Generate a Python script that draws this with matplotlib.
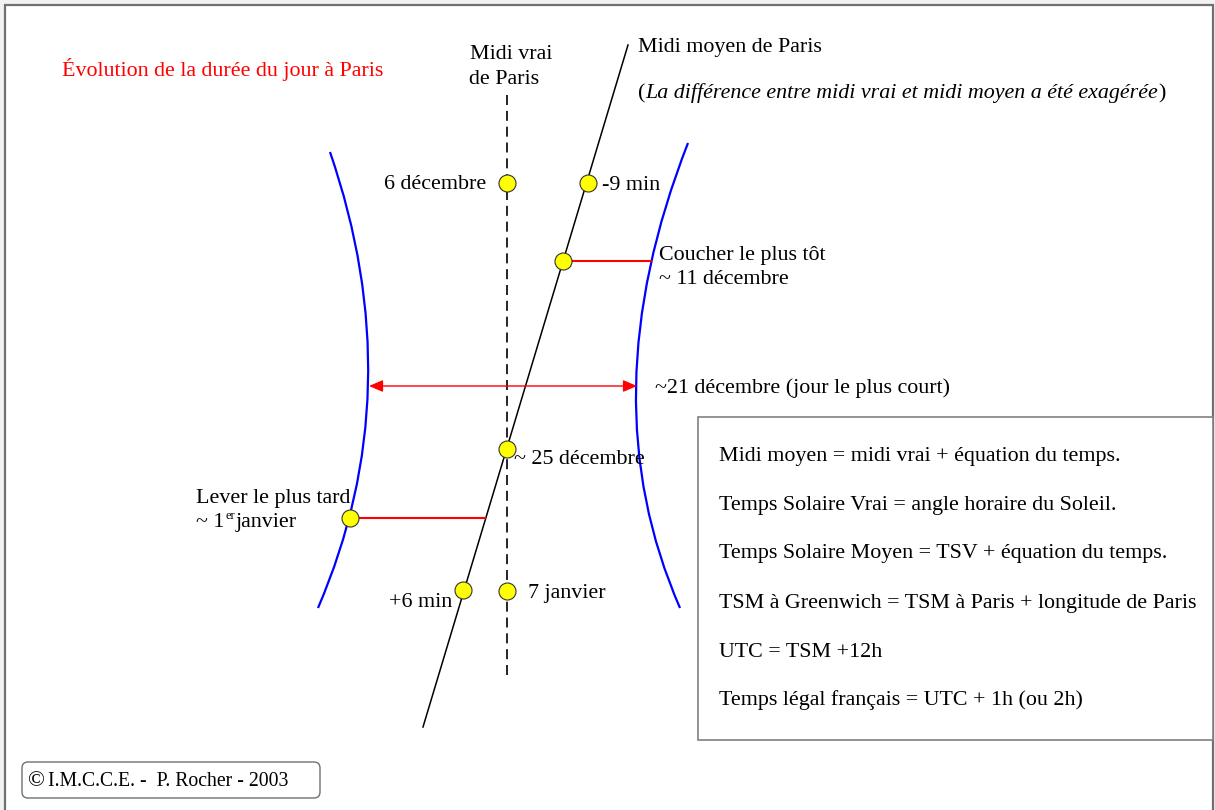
import matplotlib
matplotlib.use("Agg")
import matplotlib.pyplot as plt
from matplotlib.path import Path
from matplotlib.patches import PathPatch, Rectangle, FancyBboxPatch

plt.rcParams['font.family'] = ['Liberation Serif', 'DejaVu Serif']

# ---------------- data (diagram coordinates, pixels, y downward) ----------------
title = "Évolution de la durée du jour à Paris"

true_noon_x = 507
true_noon_y = [95, 675]
mean_noon_x = [628, 423]
mean_noon_y = [45, 727]

# yellow events: (x, y)
event_names = ["6 décembre", "-9 min", "Coucher le plus tôt", "~ 25 décembre",
               "7 janvier", "+6 min", "Lever le plus tard"]
event_x = [507, 588, 563, 507, 507, 463, 350]
event_y = [183, 183, 261, 449, 591, 590, 518]

# sunset / sunrise curves as quadratic Bezier control points
sunrise_x = [330, 412, 318]
sunrise_y = [152, 390, 608]
sunset_x = [688, 588, 680]
sunset_y = [143, 398, 608]

# red markers
sunset_link_x = [563, 651]
sunset_link_y = [261, 261]
sunrise_link_x = [350, 485]
sunrise_link_y = [518, 518]
shortest_x = [369, 637]
shortest_y = [386, 386]

box_lines = [
    "Midi moyen = midi vrai + équation du temps.",
    "Temps Solaire Vrai = angle horaire du Soleil.",
    "Temps Solaire Moyen = TSV + équation du temps.",
    "TSM à Greenwich = TSM à Paris + longitude de Paris",
    "UTC = TSM +12h",
    "Temps légal français = UTC + 1h (ou 2h)",
]
box_line_y = [461, 510, 558, 608, 657, 705]

W, H = 1215, 810
FS = 15.8
fig = plt.figure(figsize=(W / 100, H / 100), dpi=100, facecolor='#f2f2f2')
ax = fig.add_axes([0, 0, 1, 1])
ax.set_xlim(0, W)
ax.set_ylim(H, 0)
ax.axis('off')

# page frame
ax.add_patch(Rectangle((5, 5), 1208, 820, facecolor='white', edgecolor='#707070',
                       lw=1.6, zorder=0))

# title
ax.text(62, 76, title, color='#ff0000', fontsize=FS, va='baseline')

# true noon (dashed)
ax.plot([true_noon_x, true_noon_x], true_noon_y, color='black', lw=1.2,
        dashes=(6, 3.5), zorder=2)
ax.text(511, 59, "Midi vrai", fontsize=FS, ha='center', va='baseline')
ax.text(504, 84, "de Paris", fontsize=FS, ha='center', va='baseline')

# mean noon line
ax.plot(mean_noon_x, mean_noon_y, color='black', lw=1.1, zorder=2)
ax.text(638, 52, "Midi moyen de Paris", fontsize=FS, va='baseline')
p1 = ax.text(638, 98, "(", fontsize=FS, va='baseline')
p2 = ax.annotate("La différence entre midi vrai et midi moyen a été exagérée",
                 xy=(1, 98), xycoords=(p1, 'data'), fontsize=FS, style='italic',
                 va='baseline', ha='left')
ax.annotate(")", xy=(1, 98), xycoords=(p2, 'data'), fontsize=FS, va='baseline', ha='left')

# blue curves
codes = [Path.MOVETO, Path.CURVE3, Path.CURVE3]
for cx, cy in [(sunrise_x, sunrise_y), (sunset_x, sunset_y)]:
    ax.add_patch(PathPatch(Path(list(zip(cx, cy)), codes), facecolor='none',
                           edgecolor='#0000ff', lw=1.6, zorder=2))

# red links
ax.plot(sunset_link_x, sunset_link_y, color='#ff0000', lw=1.5, zorder=2)
ax.plot(sunrise_link_x, sunrise_link_y, color='#ff0000', lw=1.5, zorder=2)
ax.annotate("", xy=(shortest_x[1], shortest_y[1]), xytext=(shortest_x[0], shortest_y[0]),
            arrowprops=dict(arrowstyle='<|-|>,head_length=0.7,head_width=0.3',
                            color='#ff0000', lw=1.0,
                            shrinkA=0, shrinkB=0, mutation_scale=12), zorder=2)

# yellow points
ax.scatter(event_x, event_y, s=150, facecolor='#ffff00', edgecolor='#333333',
           linewidth=0.8, zorder=4)

# labels
ax.text(486, 189, "6 décembre", fontsize=FS, ha='right', va='baseline')
ax.text(602, 190, "-9 min", fontsize=FS, va='baseline')
ax.text(659, 260, "Coucher le plus tôt", fontsize=FS, va='baseline')
ax.text(659, 284, "~ 11 décembre", fontsize=FS, va='baseline')
ax.text(655, 393, "~21 décembre (jour le plus court)", fontsize=FS, va='baseline')
ax.text(514, 464, "~ 25 décembre", fontsize=FS, va='baseline')
ax.text(196, 503, "Lever le plus tard", fontsize=FS, va='baseline')
t1 = ax.text(196, 527, "~ 1", fontsize=FS, va='baseline')
er = ax.annotate("er", xy=(1, 519), xycoords=(t1, 'data'), xytext=(0.5, 0),
                 textcoords='offset points', fontsize=9, va='baseline', ha='left')
ax.annotate("janvier", xy=(1, 527), xycoords=(er, 'data'), xytext=(1, 0),
            textcoords='offset points', fontsize=FS, va='baseline', ha='left')
ax.text(452, 607, "+6 min", fontsize=FS, ha='right', va='baseline')
ax.text(528, 598, "7 janvier", fontsize=FS, va='baseline')

# formula box
ax.add_patch(Rectangle((698, 417), 515, 323, facecolor='white', edgecolor='#808080',
                       lw=1.2, zorder=1))
for line, y in zip(box_lines, box_line_y):
    ax.text(719, y, line, fontsize=FS, va='baseline', zorder=3)

# copyright box
ax.add_patch(FancyBboxPatch((22, 762), 298, 36, boxstyle='round,pad=0,rounding_size=6',
                            facecolor='white', edgecolor='#707070', lw=1.0))
ax.text(28, 786, "©", fontsize=16, va='baseline')
ax.text(48, 786, "I.M.C.C.E. -  P. Rocher - 2003", fontsize=14.2, va='baseline')

fig.savefig("out.png", dpi=100, facecolor=fig.get_facecolor())
